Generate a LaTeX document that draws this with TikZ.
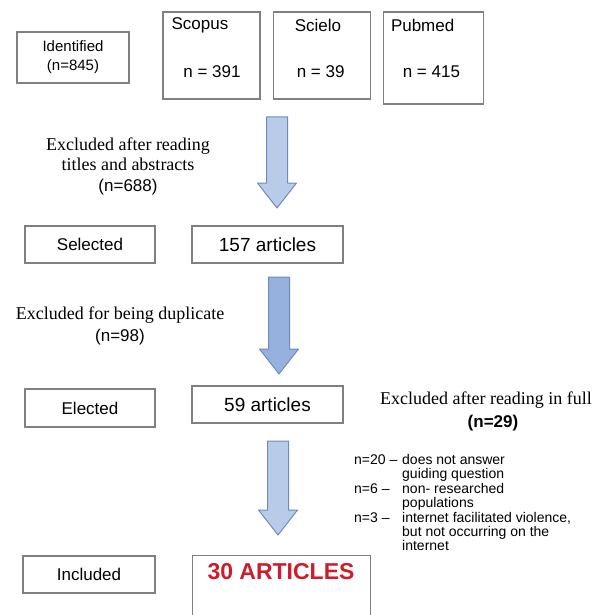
\documentclass[tikz,border=0pt]{standalone}
\usepackage{fontspec}
\setmainfont{Liberation Serif}
\setsansfont{Liberation Sans}
\usetikzlibrary{positioning,calc}

\definecolor{boxgray}{RGB}{128,128,128}
\definecolor{arrowfill}{RGB}{184,203,233}
\definecolor{arrowline}{RGB}{110,138,190}
\definecolor{arrowdark}{RGB}{150,177,222}
\definecolor{titlered}{RGB}{206,28,42}

\newcommand{\blockarrow}[3]{%
  \draw[#1] ($(#2)+(-10.5,0)$) -- ($(#2)+(10.5,0)$) -- ($(#3)+(10.5,-25)$)
    -- ($(#3)+(19.5,-25)$) -- (#3) -- ($(#3)+(-19.5,-25)$)
    -- ($(#3)+(-10.5,-25)$) -- cycle;}

\tikzset{
  box/.style={draw=boxgray,line width=1.2pt,rectangle,inner sep=0pt,
    font=\sffamily\fontsize{17}{20}\selectfont},
  srcbox/.style={box,minimum width=97,minimum height=87},
  stagebox/.style={box,minimum width=130,minimum height=37},
  countbox/.style={box,minimum width=151,minimum height=37,
    font=\sffamily\fontsize{19}{22}\selectfont},
  srclabel/.style={inner sep=0pt,font=\sffamily\fontsize{17}{20}\selectfont},
  note/.style={inner sep=0pt,align=center,font=\rmfamily\fontsize{18}{20.5}\selectfont},
  bluearrow/.style={fill=arrowfill,draw=arrowline,line width=1pt,line join=round},
  darkarrow/.style={fill=arrowdark,draw=arrowline,line width=1pt,line join=round}
}

\begin{document}
\begin{tikzpicture}[x=1pt,y=-1pt]
  \useasboundingbox (0,0) rectangle (609,615);

  \node[box,minimum width=112,minimum height=51,align=center,
    font=\sffamily\fontsize{15}{19}\selectfont] (ident) at (73,57.5) {Identified\\(n=845)};

  \node[srcbox] (scopus) at (211.5,55.5) {};
  \node[srcbox] (scielo) [right=12pt of scopus] {};
  \node[srcbox,minimum width=100,minimum height=92,anchor=north west] (pubmed)
    at ($(scielo.north east)+(12,0)$) {};
  \node[srclabel,anchor=west] (scopusname) at ($(scopus.north west)+(9,14)$) {Scopus};
  \node[srclabel,anchor=west] (scieloname) at ($(scielo.north west)+(22,14)$) {Scielo};
  \node[srclabel,anchor=west] (pubmedname) at ($(pubmed.north west)+(8,14)$) {Pubmed};
  \node[srclabel] (scopusn) at ($(scopus.north)+(0.5,60)$) {n = 391};
  \node[srclabel] (scielon) at ($(scielo.north)+(-1,60)$) {n = 39};
  \node[srclabel] (pubmedn) at ($(pubmed.north)+(-2,60)$) {n = 415};

  \node[note] (excl1) at (128,166) {Excluded after reading\\titles and abstracts\\
    {\sffamily\fontsize{17}{20.5}\selectfont(n=688)}};

  \node[stagebox] (selected) at (90,244.5) {Selected};
  \node[countbox] (art157) at (267.5,244.5) {157 articles};

  \node[note,font=\rmfamily\fontsize{18}{22}\selectfont] (excl2) at (120,326)
    {Excluded for being duplicate\\{\sffamily\fontsize{17}{22}\selectfont(n=98)}};

  \node[stagebox,minimum height=38] (elected) at (90,408) {Elected};
  \node[countbox] (art59) at (267.5,404.5) {59 articles};

  \node[note,font=\rmfamily\fontsize{18}{23}\selectfont] (excl3) at (486,411)
    {Excluded after reading in full\\{\sffamily\bfseries\fontsize{17}{23}\selectfont\hspace*{14pt}(n=29)}};

  \node[inner sep=0pt,anchor=north west,font=\sffamily\fontsize{14}{14.3}\selectfont] (reasons) at (354,454)
    {\begin{tabular}{@{}p{48pt}@{}l@{}}
      n=20 -- & does not answer\\
        & guiding  question\\
      n=6 -- & non- researched\\
        & populations\\
      n=3 -- & internet facilitated violence,\\
        & but not occurring on the\\
        & internet
    \end{tabular}};

  \node[stagebox,minimum width=132] (included) at (89,574.5) {Included};
  \node[minimum width=177,minimum height=59,inner sep=0pt] (art30) at (281.5,585.5) {};
  \draw[draw=boxgray,line width=1.2pt] (art30.south west) -- (art30.north west)
    -- (art30.north east) -- (art30.south east);
  \node[inner sep=0pt,text=titlered,font=\sffamily\bfseries\fontsize{23}{26}\selectfont]
    (art30txt) at (281,572) {30 ARTICLES};

  \coordinate (a1top) at (277,117);
  \coordinate (a1tip) at (277,208);
  \coordinate (a2top) at (279,277);
  \coordinate (a2tip) at (279,374);
  \coordinate (a3top) at (278,441);
  \coordinate (a3tip) at (278,535);
  \blockarrow{bluearrow}{a1top}{a1tip}
  \blockarrow{darkarrow}{a2top}{a2tip}
  \blockarrow{bluearrow}{a3top}{a3tip}
\end{tikzpicture}
\end{document}
